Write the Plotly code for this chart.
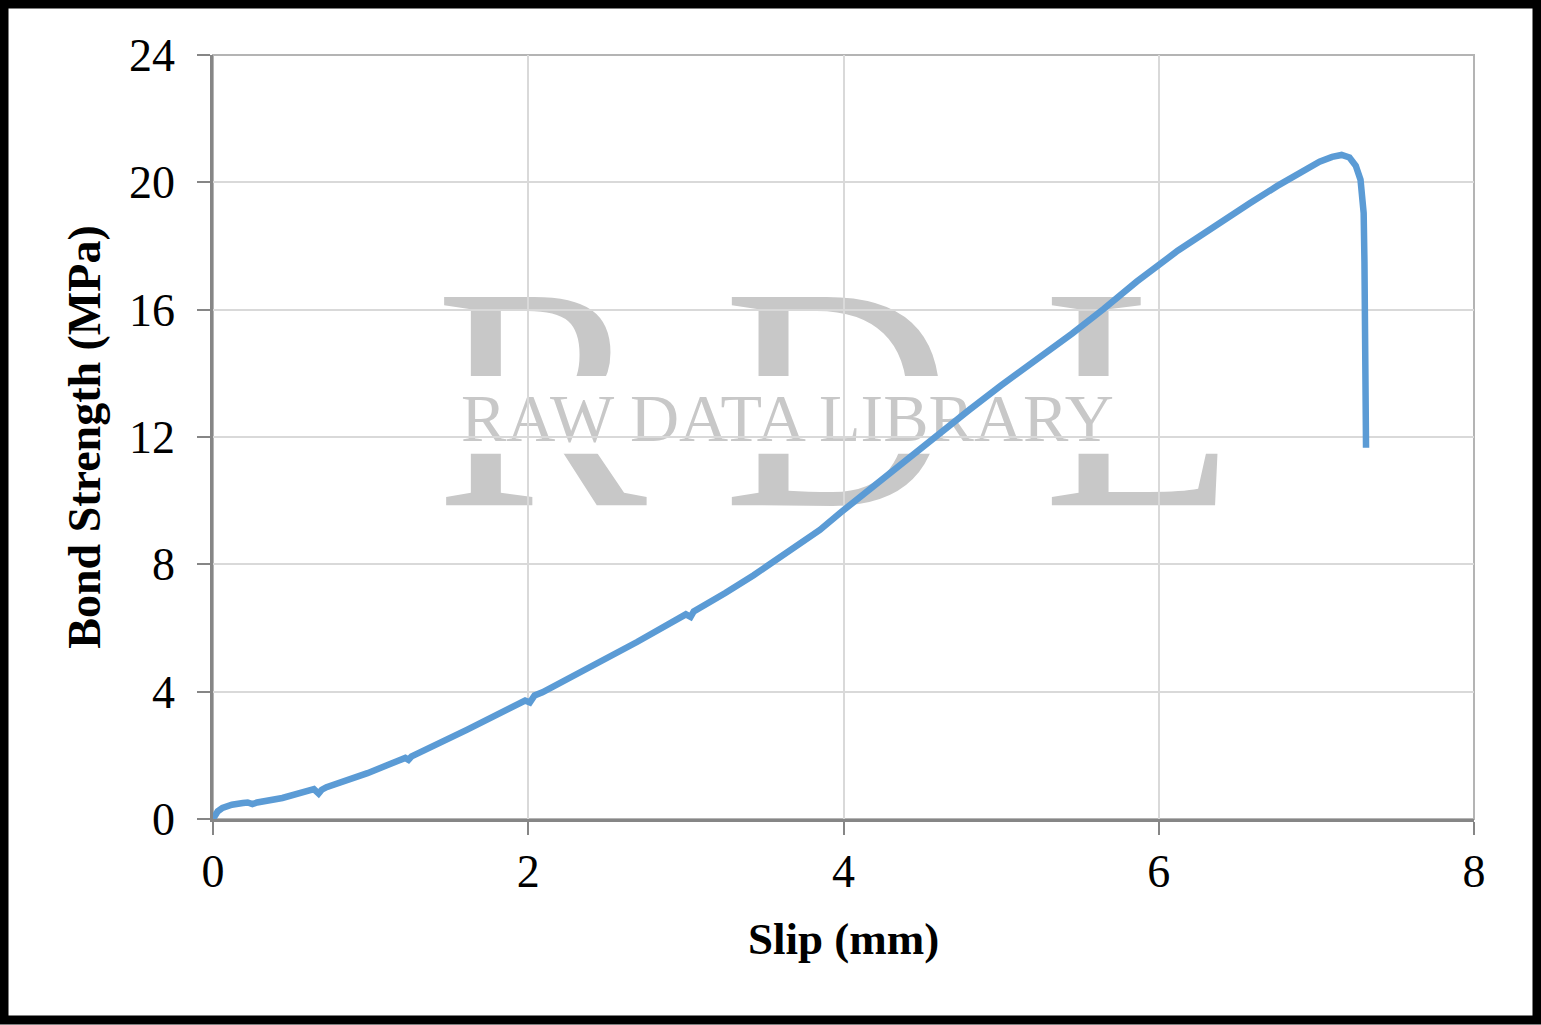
import plotly.graph_objects as go

# Data
slip_mm = [0, 0.01, 0.03, 0.06, 0.12, 0.19, 0.22, 0.25, 0.28, 0.44, 0.55, 0.64, 0.67, 0.69,
           0.72, 0.85, 0.98, 1.10, 1.22, 1.24, 1.26, 1.61, 1.98, 2.01, 2.04, 2.09, 2.37, 2.69, 3.00,
           3.03, 3.05, 3.09, 3.25, 3.43, 3.55, 3.66, 3.69, 3.71, 3.85, 3.98, 4.17, 4.36, 4.61,
           4.80, 5.00, 5.25, 5.45, 5.65, 5.86, 6.12, 6.30, 6.58, 6.75, 6.90, 7.02, 7.10, 7.16,
           7.21, 7.25, 7.28, 7.30, 7.305, 7.31, 7.31, 7.315]
bond_mpa = [0, 0.12, 0.24, 0.35, 0.45, 0.50, 0.52, 0.47, 0.52, 0.66, 0.80, 0.94, 0.80, 0.92,
            1.00, 1.21, 1.44, 1.68, 1.92, 1.86, 1.97, 2.80, 3.72, 3.66, 3.88, 3.98, 4.70, 5.56, 6.43,
            6.35, 6.52, 6.63, 7.10, 7.66, 8.05, 8.46, 8.50, 8.60, 9.08, 9.62, 10.38, 11.15, 12.12,
            12.86, 13.62, 14.50, 15.25, 16.02, 16.88, 17.85, 18.45, 19.35, 19.88, 20.33, 20.65, 20.80, 20.86,
            20.78, 20.52, 20.08, 19.04, 17.5, 15.0, 13.0, 11.66]

x_ticks = [0, 2, 4, 6, 8]
y_ticks = [0, 4, 8, 12, 16, 20, 24]

SERIF = "Liberation Serif"
AXIS_GRAY = "#868686"
GRID = "#d9d9d9"
WM = "#c8c8c8"

fig = go.Figure()
fig.add_trace(go.Scatter(
    x=slip_mm, y=bond_mpa, mode="lines",
    line=dict(color="#5B9BD5", width=6.5),
    showlegend=False, hoverinfo="x+y",
))

axis_common = dict(
    showgrid=True, gridcolor=GRID, gridwidth=1.5,
    showline=True, linecolor=AXIS_GRAY, linewidth=2.5,
    ticks="outside", ticklen=13, tickwidth=2, tickcolor=AXIS_GRAY,
    tickfont=dict(family=SERIF, size=46, color="black"),
    zeroline=False,
)

fig.update_xaxes(
    range=[0, 8], tickvals=x_ticks, **axis_common,
    title=dict(text="<b>Slip (mm)</b>", font=dict(family=SERIF, size=45, color="black"), standoff=27),
    ticklabelstandoff=-3,
)
fig.update_yaxes(
    range=[0, 24], tickvals=y_ticks, **axis_common,
    title=dict(text="<b>Bond Strength (MPa)</b>", font=dict(family=SERIF, size=46, color="black"), standoff=14),
    ticklabelstandoff=13,
)

shapes = []
# watermark big letters
for letter, x0, x1 in [("R", 0.1737, 0.3466), ("D", 0.410, 0.5805), ("L", 0.662, 0.808)]:
    shapes.append(dict(
        type="rect", xref="paper", yref="paper", x0=x0, x1=x1, y0=0.459, y1=0.734,
        line=dict(width=0), fillcolor="rgba(0,0,0,0)", layer="below",
        label=dict(text=letter, font=dict(family=SERIF, size=318, color=WM),
                   textposition="middle center"),
    ))
# white band through the letters
shapes.append(dict(
    type="rect", xref="paper", yref="paper", x0=0.164, x1=0.818, y0=0.478, y1=0.58,
    line=dict(width=0), fillcolor="white", layer="below",
))
# watermark small text
shapes.append(dict(
    type="rect", xref="paper", yref="paper", x0=0.2, x1=0.711, y0=0.502, y1=0.565,
    line=dict(width=0), fillcolor="rgba(0,0,0,0)", layer="below",
    label=dict(text="RAW DATA LIBRARY", font=dict(family=SERIF, size=68, color=WM),
               textposition="middle center"),
))
# plot-area frame (top/right)
shapes.append(dict(
    type="rect", xref="paper", yref="paper", x0=0, x1=1, y0=0, y1=1,
    line=dict(color="#b4b4b4", width=2), fillcolor="rgba(0,0,0,0)", layer="below",
))
# outer black border
shapes.append(dict(
    type="rect", xref="paper", yref="paper", x0=-0.16574, x1=1.04996, y0=-0.2631, y1=1.0668,
    line=dict(color="black", width=9), fillcolor="rgba(0,0,0,0)", layer="above",
))

fig.update_layout(
    width=1541, height=1025,
    margin=dict(l=213, r=67, t=55, b=206),
    paper_bgcolor="white", plot_bgcolor="white",
    shapes=shapes,
    font=dict(family=SERIF, color="black"),
)

fig.write_html("out.html", config={"displayModeBar": False},
               post_script="document.body.style.margin='0';")
